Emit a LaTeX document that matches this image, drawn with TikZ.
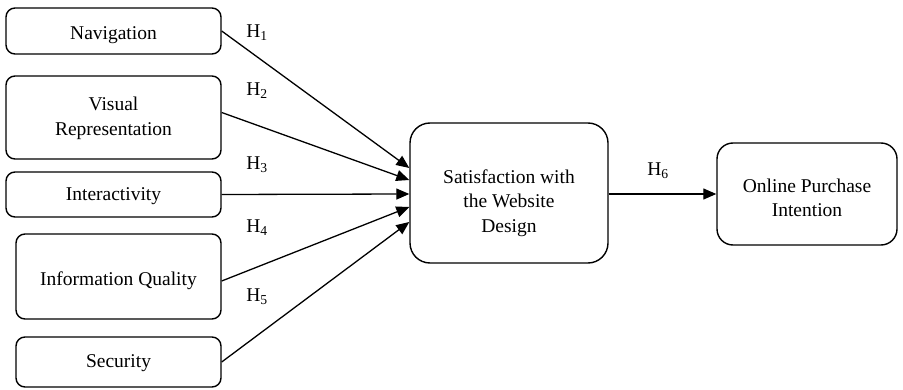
\documentclass[tikz,border=0pt]{standalone}
\usepackage{fontspec}
\setmainfont{Liberation Serif}
\usetikzlibrary{arrows.meta}
\begin{document}
\begin{tikzpicture}[x=1pt,y=-1pt,
  box/.style={draw,line width=1.4pt,rounded corners=9pt,inner sep=0pt},
  txt/.style={align=center,inner sep=0pt,font=\fontsize{19.5}{24.5}\selectfont},
  conn/.style={line width=1.3pt,-{Triangle[length=13pt,width=11pt]}},
  hlab/.style={font=\fontsize{19.5}{24}\selectfont,inner sep=0pt}]
\useasboundingbox (0,0) rectangle (903,390);
\node[box,minimum width=215pt,minimum height=46pt] (nav) at (113.5,31) {};
\node[box,minimum width=215pt,minimum height=83pt] (vis) at (113.5,117.5) {};
\node[box,minimum width=215pt,minimum height=45pt] (int) at (113.5,194.5) {};
\node[box,minimum width=205pt,minimum height=85pt] (inf) at (118.5,276.5) {};
\node[box,minimum width=205pt,minimum height=50pt] (sec) at (118.5,362) {};
\node[box,rounded corners=20pt,minimum width=198pt,minimum height=140pt] (sat) at (509,193) {};
\node[box,rounded corners=16pt,minimum width=180pt,minimum height=102pt] (onl) at (807,194) {};
\node[txt] (navt) at ([yshift=-4pt]nav.center) {Navigation};
\node[txt] (vist) at ([yshift=-1pt]vis.center) {Visual\\Representation};
\node[txt] (intt) at ([yshift=-2pt]int.center) {Interactivity};
\node[txt] (inft) at ([yshift=-4pt]inf.center) {Information Quality};
\node[txt] (sect) at ([yshift=-1.5pt]sec.center) {Security};
\node[txt] (satt) at ([yshift=-10pt]sat.center) {Satisfaction with\\the Website\\Design};
\node[txt] (onlt) at ([yshift=-4pt]onl.center) {Online Purchase\\Intention};
\draw[conn] (nav.east) -- ([yshift=25pt]sat.west);
\draw[conn] ([yshift=5pt]vis.east) -- ([yshift=13pt]sat.west);
\draw[conn] (int.east) -- ([yshift=-1pt]sat.west);
\draw[conn] ([yshift=-4.5pt]inf.east) -- ([yshift=-14pt]sat.west);
\draw[conn] (sec.east) -- ([yshift=-29pt]sat.west);
\draw[conn] ([yshift=-1pt]sat.east) -- ([yshift=0pt]onl.west);
\node[hlab] (h1) at (257,33) {H\textsubscript{1}};
\node[hlab] (h2) at (257,91) {H\textsubscript{2}};
\node[hlab] (h3) at (257,165) {H\textsubscript{3}};
\node[hlab] (h4) at (257,228) {H\textsubscript{4}};
\node[hlab] (h5) at (257,297) {H\textsubscript{5}};
\node[hlab] (h6) at (658,171) {H\textsubscript{6}};
\end{tikzpicture}
\end{document}
